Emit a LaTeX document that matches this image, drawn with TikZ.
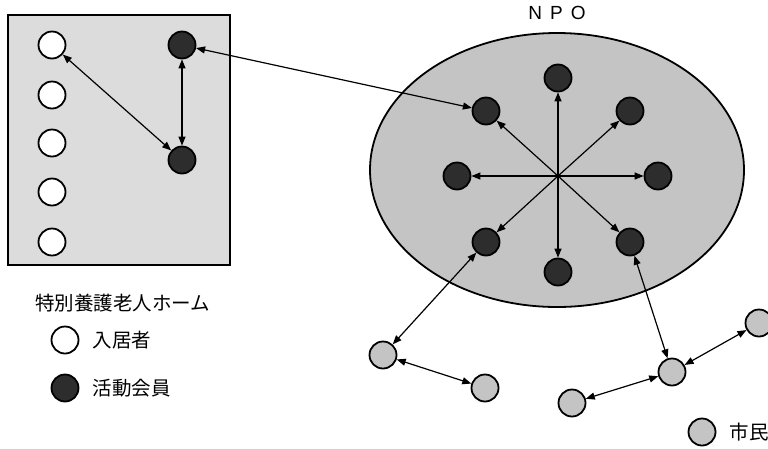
\documentclass[tikz,border=0pt]{standalone}
\usepackage{fontspec}
\setmainfont{Liberation Sans}
\newfontfamily\jpfont{Noto Sans CJK JP}
\usetikzlibrary{arrows.meta, positioning, shapes.geometric}
\definecolor{HomeGray}{RGB}{220, 220, 220}
\definecolor{NPOGray}{RGB}{196, 196, 196}
\definecolor{CitizenGray}{RGB}{196, 196, 196}
\definecolor{MemberDark}{RGB}{45, 45, 45}

\tikzset{
  resident/.style={circle, draw=black, fill=white, line width=1.8pt, minimum size=27pt, inner sep=0pt},
  member/.style={resident, fill=MemberDark},
  citizen/.style={resident, fill=CitizenGray},
  link/.style={{Triangle[length=9pt,width=7pt]}-{Triangle[length=9pt,width=7pt]}, line width=1.2pt},
  outlink/.style={-{Triangle[length=9pt,width=7pt]}, line width=1.2pt},
  jplabel/.style={font=\jpfont\fontsize{19.5}{21}\selectfont, anchor=west, inner sep=0pt}
}

\begin{document}
\begin{tikzpicture}[x=1pt, y=-1pt]
    \useasboundingbox (0,0) rectangle (768,448);

    % facility box and NPO ellipse
    \draw[fill=HomeGray, line width=1.8pt] (8,15) rectangle (230,265);
    \draw[fill=NPOGray, line width=1.8pt] (557,170) ellipse [x radius=187pt, y radius=137pt];
    \node (npo) at (557,13) {\fontsize{19}{21}\selectfont N\hspace{8pt}P\hspace{8pt}O};

    % residents and members in the home
    \node[resident] (r1) at (52,45) {};
    \node[resident] (r2) at (52,95) {};
    \node[resident] (r3) at (52,143) {};
    \node[resident] (r4) at (52,192) {};
    \node[resident] (r5) at (52,242) {};
    \node[member] (m1) at (182,45) {};
    \node[member] (m2) at (182,160) {};

    % NPO members
    \coordinate (hub) at (558,176);
    \node[member] (nt) at (558,78) {};
    \node[member] (nul) at (486,111) {};
    \node[member] (nur) at (630,111) {};
    \node[member] (nl) at (457,176) {};
    \node[member] (nr) at (658,176) {};
    \node[member] (nll) at (486,242) {};
    \node[member] (nlr) at (630,242) {};
    \node[member] (nb) at (558,272) {};

    % citizens
    \node[citizen] (c1) at (383,355) {};
    \node[citizen] (c2) at (485,388) {};
    \node[citizen] (c3) at (572,403) {};
    \node[citizen] (c4) at (672,372) {};
    \node[citizen] (c5) at (759,323) {};

    % connectors
    \draw[link] (r1) -- (m2);
    \draw[link] (m1) -- (m2);
    \draw[link] (m1) -- (nul);
    \foreach \n in {nt, nul, nur, nl, nr, nll, nlr, nb}
      \draw[outlink] (hub) -- (\n);
    \draw[link] (nll) -- (c1);
    \draw[link] (nlr) -- (c4);
    \draw[link] (c1) -- (c2);
    \draw[link] (c3) -- (c4);
    \draw[link] (c4) -- (c5);

    % legend
    \node[jplabel] (homelabel) at (35,303) {特別養護老人ホーム};
    \node[resident] (keyres) at (65,340) {};
    \node[jplabel, right=13pt of keyres] (keyreslabel) {入居者};
    \node[member] (keymem) at (65,388) {};
    \node[jplabel, right=13pt of keymem] (keymemlabel) {活動会員};
    \node[citizen] (keycit) at (702,432) {};
    \node[jplabel, right=13pt of keycit] (keycitlabel) {市民};
\end{tikzpicture}
\end{document}
